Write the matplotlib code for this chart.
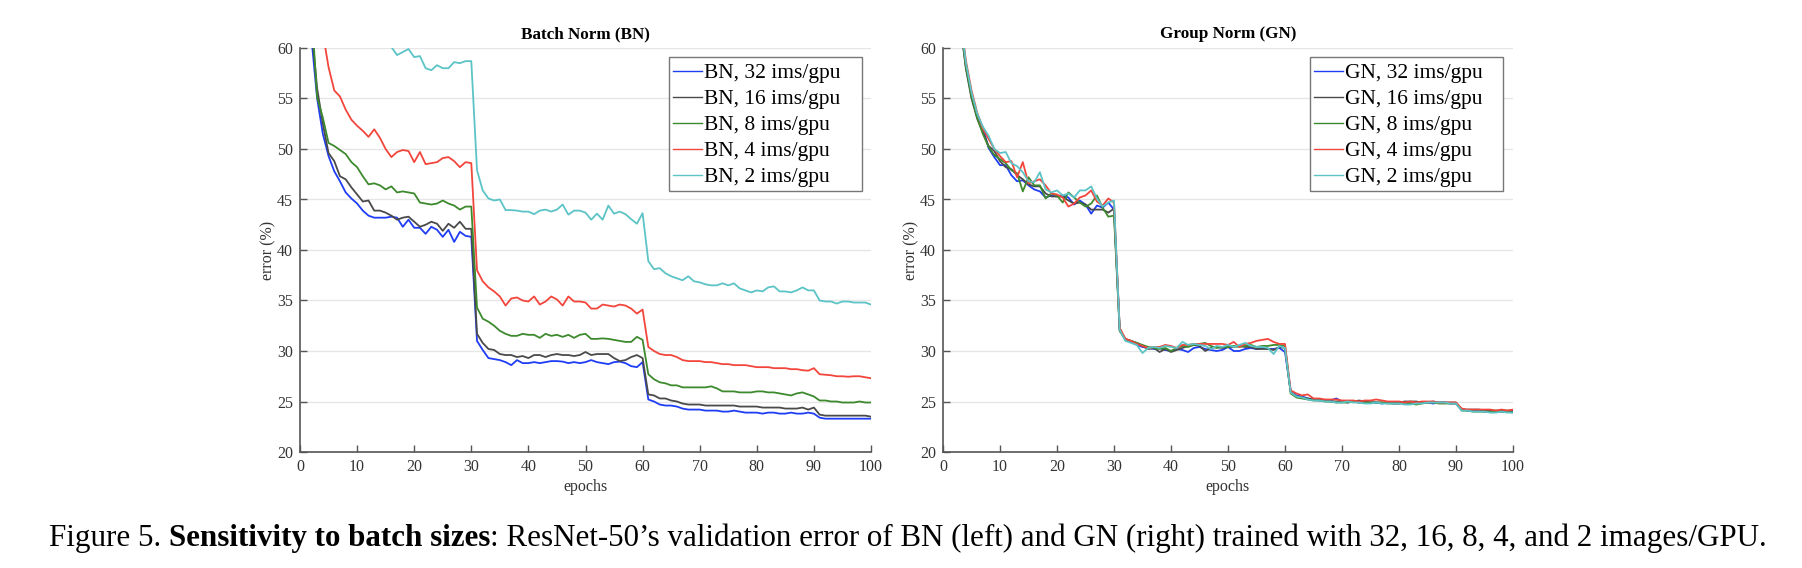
import matplotlib
matplotlib.use("Agg")
import matplotlib.pyplot as plt
from matplotlib.patches import Rectangle

epochs = list(range(1, 101))

# ---------------- Batch Norm data ----------------
bn_32 = [75, 61, 55, 51.5, 49.3, 47.8, 46.8, 45.7, 45.1, 44.6,
         43.9, 43.4, 43.2, 43.2, 43.2, 43.3, 43.2, 42.3, 43.0, 42.2,
         42.2, 41.6, 42.3, 42.0, 41.3, 42.0, 40.8, 41.8, 41.4, 41.3,
         31.0, 30.1, 29.3, 29.2, 29.1, 28.9, 28.6, 29.1, 28.8, 28.8,
         28.9, 28.8, 28.9, 29.0, 29.0, 28.95, 28.8, 28.9, 28.8, 28.9,
         29.1, 28.9, 28.8, 28.7, 28.9, 28.95, 28.8, 28.5, 28.4, 28.9,
         25.2, 25.0, 24.7, 24.6, 24.6, 24.5, 24.3, 24.2, 24.2, 24.2,
         24.1, 24.1, 24.1, 24.0, 24.0, 24.1, 24.0, 23.9, 23.9, 23.9,
         23.8, 23.9, 23.9, 23.8, 23.8, 23.9, 23.8, 23.8, 23.9, 23.8,
         23.4, 23.3, 23.3, 23.3, 23.3, 23.3, 23.3, 23.3, 23.3, 23.3]
bn_16 = [76, 62, 56, 52.5, 49.6, 48.8, 47.3, 47.0, 46.2, 45.5,
         44.8, 44.9, 43.9, 43.9, 43.7, 43.4, 43.0, 43.2, 43.3, 42.8,
         42.3, 42.5, 42.8, 42.6, 41.9, 42.6, 42.2, 42.8, 42.1, 42.1,
         31.7, 30.8, 30.2, 30.1, 29.7, 29.6, 29.6, 29.4, 29.5, 29.3,
         29.6, 29.6, 29.4, 29.6, 29.7, 29.6, 29.6, 29.5, 29.6, 29.9,
         29.6, 29.7, 29.7, 29.7, 29.3, 29.0, 29.1, 29.4, 29.6, 29.3,
         25.7, 25.6, 25.3, 25.3, 25.1, 25.0, 24.8, 24.7, 24.7, 24.7,
         24.6, 24.6, 24.6, 24.6, 24.6, 24.6, 24.5, 24.5, 24.5, 24.5,
         24.4, 24.4, 24.4, 24.4, 24.3, 24.3, 24.3, 24.4, 24.2, 24.4,
         23.7, 23.6, 23.6, 23.6, 23.6, 23.6, 23.6, 23.6, 23.6, 23.5]
bn_8 = [78, 64, 55.1, 53.1, 50.6, 50.3, 49.9, 49.5, 48.7, 48.2,
        47.3, 46.5, 46.6, 46.4, 46.0, 46.3, 45.7, 45.8, 45.7, 45.6,
        44.7, 44.6, 44.5, 44.6, 44.9, 44.6, 44.4, 44.0, 44.3, 44.3,
        34.3, 33.2, 32.9, 32.5, 32.0, 31.7, 31.5, 31.5, 31.7, 31.6,
        31.6, 31.3, 31.7, 31.5, 31.6, 31.4, 31.6, 31.3, 31.6, 31.7,
        31.2, 31.2, 31.25, 31.2, 31.1, 31.0, 30.9, 30.9, 31.4, 31.1,
        27.7, 27.2, 26.9, 26.8, 26.6, 26.6, 26.4, 26.4, 26.4, 26.4,
        26.4, 26.5, 26.3, 26.0, 26.0, 26.0, 25.9, 25.9, 25.9, 26.0,
        26.0, 25.9, 25.9, 25.8, 25.7, 25.6, 25.8, 25.9, 25.7, 25.5,
        25.1, 25.1, 25.0, 25.0, 24.9, 24.9, 24.9, 25.0, 24.9, 24.9]
bn_4 = [80, 72, 66, 61.5, 58.1, 55.8, 55.2, 53.9, 52.9, 52.3,
        51.8, 51.2, 51.95, 51.1, 50.0, 49.2, 49.7, 49.9, 49.8, 48.7,
        49.7, 48.5, 48.6, 48.7, 49.1, 49.2, 48.8, 48.2, 48.7, 48.6,
        38.0, 36.9, 36.3, 35.9, 35.4, 34.5, 35.2, 35.3, 35.0, 34.9,
        35.4, 34.6, 34.9, 35.4, 35.1, 34.5, 35.4, 34.9, 34.9, 34.8,
        34.2, 34.2, 34.6, 34.5, 34.4, 34.6, 34.5, 34.2, 33.7, 34.1,
        30.4, 30.0, 29.7, 29.6, 29.6, 29.4, 29.1, 29.0, 29.0, 29.0,
        28.9, 28.9, 28.8, 28.7, 28.7, 28.6, 28.6, 28.6, 28.5, 28.4,
        28.4, 28.4, 28.3, 28.3, 28.3, 28.2, 28.2, 28.1, 28.05, 28.3,
        27.7, 27.65, 27.6, 27.5, 27.5, 27.45, 27.5, 27.5, 27.4, 27.3]
bn_2 = [90, 80, 75, 72, 70, 68, 66.5, 65.5, 64.5, 63.5,
        63.0, 62.5, 62.0, 61.5, 60.7, 60.1, 59.3, 59.6, 59.9, 59.1,
        59.2, 58.0, 57.8, 58.3, 58.0, 58.0, 58.6, 58.5, 58.7, 58.7,
        47.9, 45.9, 45.1, 44.9, 45.0, 43.95, 43.95, 43.9, 43.8, 43.8,
        43.55, 43.9, 44.0, 43.8, 44.0, 44.5, 43.5, 43.9, 43.9, 43.7,
        43.0, 43.6, 43.0, 44.4, 43.6, 43.8, 43.55, 43.05, 42.6, 43.65,
        38.9, 38.1, 38.2, 37.7, 37.4, 37.2, 37.0, 37.4, 36.9, 36.8,
        36.6, 36.5, 36.5, 36.7, 36.5, 36.7, 36.2, 36.0, 35.8, 36.0,
        35.9, 36.3, 36.4, 35.9, 35.9, 35.8, 36.0, 36.3, 36.0, 36.0,
        35.0, 34.9, 34.9, 34.7, 34.9, 34.9, 34.8, 34.8, 34.8, 34.6]

# ---------------- Group Norm data ----------------
gn_32 = [85, 72, 63, 58.3, 55.3, 53.2, 52.1, 50.1, 49.2, 48.4,
         48.4, 47.4, 46.8, 46.9, 46.4, 46.0, 45.8, 45.2, 45.4, 45.3,
         45.4, 45.2, 44.5, 44.9, 44.5, 43.6, 44.4, 44.2, 44.7, 44.0,
         32.2, 31.1, 30.9, 30.6, 30.4, 30.3, 30.2, 30.3, 30.1, 30.0,
         30.2, 30.1, 29.9, 30.3, 30.4, 30.2, 30.1, 30.0, 30.1, 30.4,
         30.0, 30.0, 30.2, 30.3, 30.2, 30.3, 30.2, 30.2, 30.3, 29.9,
         26.0, 25.6, 25.5, 25.3, 25.2, 25.1, 25.1, 25.1, 25.3, 25.0,
         24.9, 25.0, 24.9, 25.0, 24.9, 24.9, 24.8, 24.9, 24.8, 24.8,
         24.9, 24.8, 24.8, 24.9, 24.9, 24.8, 24.9, 24.9, 24.8, 24.8,
         24.2, 24.1, 24.1, 24.1, 24.0, 24.0, 24.0, 24.0, 24.0, 24.0]
gn_16 = [85, 71, 62.5, 58.0, 55.0, 53.0, 51.6, 50.3, 49.8, 48.8,
         48.2, 48.0, 47.4, 47.0, 46.5, 46.3, 46.3, 45.6, 45.3, 45.3,
         45.3, 44.9, 44.6, 44.7, 44.5, 44.0, 44.0, 44.0, 43.7, 44.1,
         32.0, 31.2, 31.0, 30.8, 30.5, 30.2, 30.3, 29.9, 30.2, 29.9,
         30.1, 30.3, 30.5, 30.6, 30.5, 30.0, 30.3, 30.4, 30.3, 30.4,
         30.4, 30.5, 30.4, 30.4, 30.2, 30.2, 30.2, 30.1, 30.4, 30.3,
         25.9, 25.5, 25.4, 25.3, 25.2, 25.2, 25.1, 25.0, 25.0, 25.0,
         25.0, 25.0, 25.1, 25.0, 24.9, 24.9, 24.9, 24.9, 24.9, 24.9,
         25.0, 25.0, 25.0, 24.9, 24.9, 25.0, 24.9, 24.9, 24.9, 24.9,
         24.2, 24.2, 24.2, 24.2, 24.1, 24.1, 24.1, 24.1, 24.1, 24.1]
gn_8 = [85, 71.5, 62.8, 58.2, 55.2, 53.1, 51.5, 50.2, 49.4, 49.0,
        48.6, 47.9, 47.6, 45.8, 47.2, 46.4, 46.4, 45.1, 45.6, 45.4,
        44.7, 45.7, 45.2, 44.7, 44.3, 44.6, 45.4, 44.2, 43.3, 43.4,
        32.0, 31.1, 31.0, 30.8, 30.6, 30.4, 30.3, 30.2, 30.3, 30.0,
        30.3, 30.5, 30.4, 30.6, 30.7, 30.8, 30.5, 30.3, 30.4, 30.4,
        30.5, 30.4, 30.5, 30.6, 30.4, 30.5, 30.5, 30.6, 30.6, 30.5,
        25.8, 25.4, 25.3, 25.2, 25.1, 25.1, 25.0, 25.0, 24.9, 24.9,
        24.9, 25.0, 24.9, 24.9, 24.9, 24.9, 24.9, 24.8, 24.8, 24.8,
        24.9, 24.8, 24.7, 24.8, 24.9, 24.9, 24.8, 24.8, 24.8, 24.8,
        24.1, 24.1, 24.0, 24.0, 24.0, 24.0, 24.0, 24.0, 24.0, 23.9]
gn_4 = [86, 73, 63.5, 58.8, 55.8, 53.6, 52.0, 51.0, 50.0, 49.3,
        48.7, 48.8, 47.2, 48.7, 46.6, 46.8, 47.0, 46.4, 45.6, 45.5,
        45.2, 44.3, 44.6, 45.2, 45.4, 45.9, 44.8, 44.4, 45.1, 44.7,
        32.3, 31.2, 31.0, 30.7, 30.5, 30.3, 30.4, 30.4, 30.6, 30.5,
        30.3, 30.6, 30.6, 30.7, 30.7, 30.7, 30.7, 30.7, 30.7, 30.6,
        30.9, 30.4, 30.7, 30.8, 31.0, 31.1, 31.2, 30.9, 30.7, 30.7,
        26.1, 25.8, 25.6, 25.7, 25.3, 25.3, 25.2, 25.2, 25.2, 25.1,
        25.1, 25.1, 25.0, 25.1, 25.1, 25.2, 25.1, 25.0, 25.0, 25.0,
        24.9, 25.0, 24.9, 25.0, 25.0, 25.0, 24.9, 24.9, 24.9, 24.9,
        24.3, 24.2, 24.2, 24.2, 24.2, 24.2, 24.1, 24.2, 24.1, 24.2]
gn_2 = [86, 72.5, 63.2, 58.6, 55.6, 53.5, 52.2, 51.3, 50.0, 49.6,
        49.7, 48.6, 48.3, 47.7, 46.8, 46.7, 47.7, 46.0, 45.7, 45.9,
        45.4, 45.6, 45.2, 45.9, 45.9, 46.3, 45.1, 44.3, 44.7, 44.9,
        32.1, 31.0, 30.8, 30.6, 29.8, 30.3, 30.4, 30.3, 30.5, 30.4,
        30.3, 30.9, 30.6, 30.7, 30.6, 30.5, 30.2, 30.5, 30.4, 30.6,
        30.4, 30.6, 30.8, 30.5, 30.4, 30.4, 30.3, 29.7, 30.5, 30.3,
        25.9, 25.5, 25.4, 25.2, 25.1, 25.1, 25.0, 25.0, 24.9, 24.9,
        25.0, 24.9, 24.9, 24.8, 24.8, 24.9, 24.8, 24.8, 24.8, 24.8,
        24.7, 24.7, 24.8, 24.8, 24.9, 24.9, 24.9, 24.9, 24.8, 24.8,
        24.1, 24.1, 24.0, 24.0, 24.0, 23.9, 23.9, 24.0, 23.9, 23.9]

batch_sizes = [32, 16, 8, 4, 2]
colors = ["#1f3df5", "#4a4a4a", "#3d8a2e", "#f2463c", "#5cc3c6"]
bn_series = [bn_32, bn_16, bn_8, bn_4, bn_2]
gn_series = [gn_32, gn_16, gn_8, gn_4, gn_2]
x_ticks = list(range(0, 101, 10))
y_ticks = list(range(20, 61, 5))

plt.rcParams['font.family'] = ['Liberation Serif', 'DejaVu Serif']

fig = plt.figure(figsize=(18.02, 5.68), dpi=100)
W, H = 1802, 568
ax_bottom = 1 - 452 / H
ax_height = (452 - 48) / H
axL = fig.add_axes([300 / W, ax_bottom, (871 - 300) / W, ax_height])
axR = fig.add_axes([943 / W, ax_bottom, (1513 - 943) / W, ax_height])


def style(ax, series, prefix, title, frame_left):
    for s, c, b in zip(series, colors, batch_sizes):
        ax.plot(epochs, s, color=c, lw=1.3, label=f"{prefix}, {b} ims/gpu", clip_on=True)
    ax.set_xlim(0, 100)
    ax.set_ylim(20, 60)
    ax.set_xticks(x_ticks)
    ax.set_yticks(y_ticks)
    ax.grid(axis='y', color='#e6e6e6', lw=1.0)
    ax.set_axisbelow(True)
    for sp in ['top', 'right']:
        ax.spines[sp].set_visible(False)
    for sp in ['left', 'bottom']:
        ax.spines[sp].set_color('#555555')
        ax.spines[sp].set_linewidth(1.2)
    ax.tick_params(direction='in', length=5, width=1.0, color='#555555',
                   labelsize=11.5, labelcolor='#333333', pad=5)
    ax.set_xlabel("epochs", fontsize=11.5, color='#333333', labelpad=3)
    ax.set_ylabel("error (%)", fontsize=11.5, color='#333333', labelpad=0.5)
    ax.set_title(title, fontsize=12.3, fontweight='bold', pad=7)
    # legend contents without frame, plus a MATLAB-style frame
    frame_top, frame_w, frame_h = 57, 193, 134
    leg = ax.legend(loc='upper left',
                    bbox_to_anchor=((frame_left + 3.5) / W, 1 - (frame_top + 6) / H),
                    bbox_transform=fig.transFigure,
                    fontsize=15.5, frameon=False, borderpad=0, borderaxespad=0,
                    labelspacing=0.28, handlelength=1.35, handletextpad=0.1)
    for line in leg.get_lines():
        line.set_linewidth(1.0)
    rect = Rectangle((frame_left / W, 1 - (frame_top + frame_h) / H), frame_w / W, frame_h / H,
                     transform=fig.transFigure, facecolor='white', edgecolor='#777777',
                     lw=1.0, zorder=4.9, clip_on=False)
    ax.add_patch(rect)


style(axL, bn_series, "BN", "Batch Norm (BN)", 669)
style(axR, gn_series, "GN", "Group Norm (GN)", 1310)

# Caption with mixed weights
fig.canvas.draw()
renderer = fig.canvas.get_renderer()
parts = [("Figure 5. ", 'normal'),
         ("Sensitivity to batch sizes", 'bold'),
         (": ResNet-50\u2019s validation error of BN (left) and GN (right) trained with 32, 16, 8, 4, and 2 images/GPU.", 'normal')]
fs = 22.3
texts = []
for s, w in parts:
    t = fig.text(0, 0, s, fontsize=fs, fontweight=w, va='baseline', ha='left')
    texts.append(t)
bbs = [t.get_window_extent(renderer) for t in texts]
total = sum(b.width for b in bbs)
start = (W - total) / 2 + 7
y_base = 1 - 546 / H
xpos = start
for t, b in zip(texts, bbs):
    t.set_position((xpos / W, y_base))
    xpos += b.width

fig.savefig("out.png", dpi=100)
